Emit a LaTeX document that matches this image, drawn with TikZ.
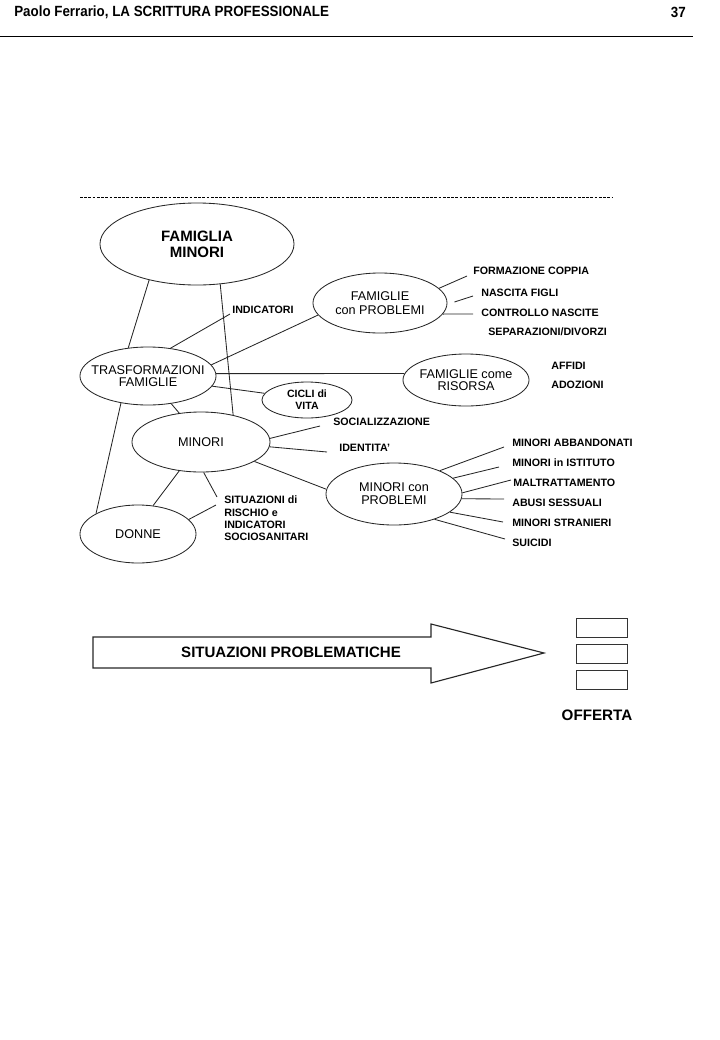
\documentclass[tikz,border=0pt]{standalone}
\usepackage{fontspec}
\setmainfont{Liberation Sans}
\newfontfamily\headfont[FakeStretch=0.905]{Liberation Sans}
\usetikzlibrary{shapes.geometric, calc}

\begin{document}
\begin{tikzpicture}[x=0.025cm, y=-0.025cm,
    oval/.style={ellipse, draw=black!85, line width=0.6pt, inner sep=0pt},
    ovaltext/.style={font=\fontsize{9}{9.8}\selectfont, align=center, inner sep=0pt},
    tag/.style={font=\bfseries\fontsize{7.6}{8.8}\selectfont, anchor=west, inner sep=0pt, align=left},
    link/.style={line width=0.6pt, black!85},
    offer/.style={rectangle, draw=black!80, line width=0.6pt, minimum width=1.275cm, minimum height=0.475cm, inner sep=0pt}
]
\useasboundingbox (0,0) rectangle (720,1040);

% page header
\node[font=\headfont\bfseries\fontsize{10.5}{12}\selectfont, anchor=west, inner sep=0pt] (head) at (14,12) {Paolo Ferrario, LA SCRITTURA PROFESSIONALE};
\node[font=\headfont\bfseries\fontsize{10.5}{12}\selectfont, anchor=east, inner sep=0pt] (page) at (686,12) {37};
\draw[line width=0.7pt] (0,36) -- (693,36);
\draw[dash pattern=on 2pt off 1pt, line width=0.6pt] (80,197) -- (612,197);

% ovals
\node[oval, minimum width=4.85cm, minimum height=2.05cm] (fm) at (197,244) {};
\node[ovaltext, font=\bfseries\fontsize{10.7}{11.5}\selectfont] (fm-t) at (fm) {FAMIGLIA\\MINORI};
\node[oval, minimum width=3.35cm, minimum height=1.5cm] (fp) at (380,303) {};
\node[ovaltext, font=\fontsize{9}{10}\selectfont] (fp-t) at (fp) {FAMIGLIE\\con PROBLEMI};
\node[oval, minimum width=3.4cm, minimum height=1.45cm] (tf) at (148,376) {};
\node[ovaltext, font=\fontsize{9}{8.6}\selectfont] (tf-t) at (tf) {TRASFORMAZIONI\\FAMIGLIE};
\node[oval, minimum width=2.25cm, minimum height=0.9cm] (cv) at (307,400) {};
\node[ovaltext, font=\bfseries\fontsize{7.5}{8.6}\selectfont] (cv-t) at (cv) {CICLI di\\VITA};
\node[oval, minimum width=3.15cm, minimum height=1.3cm] (fr) at (466,380) {};
\node[ovaltext, font=\fontsize{9}{8.6}\selectfont] (fr-t) at (fr) {FAMIGLIE come\\RISORSA};
\node[oval, minimum width=3.45cm, minimum height=1.5cm] (mi) at (201,442) {};
\node[ovaltext] (mi-t) at (mi) {MINORI};
\node[oval, minimum width=3.4cm, minimum height=1.55cm] (mp) at (394,494) {};
\node[ovaltext, font=\fontsize{9}{9.3}\selectfont] (mp-t) at (mp) {MINORI con\\PROBLEMI};
\node[oval, minimum width=2.9cm, minimum height=1.45cm] (dn) at (138,534) {};
\node[ovaltext] (dn-t) at (dn) {DONNE};

% tags
\node[tag] (ind) at (232,310) {INDICATORI};
\node[tag] (fc) at (473,271) {FORMAZIONE COPPIA};
\node[tag] (nf) at (481,293) {NASCITA FIGLI};
\node[tag] (cn) at (481,313) {CONTROLLO NASCITE};
\node[tag] (sd) at (488,332) {SEPARAZIONI/DIVORZI};
\node[tag] (af) at (551,366) {AFFIDI};
\node[tag] (ad) at (551,385) {ADOZIONI};
\node[tag] (so) at (333,422) {SOCIALIZZAZIONE};
\node[tag] (id) at (339,448) {IDENTITA'};
\node[tag] (sr) at (224,518.5) {SITUAZIONI di\\RISCHIO e\\INDICATORI\\SOCIOSANITARI};
\node[tag] (ma) at (512,443) {MINORI ABBANDONATI};
\node[tag] (mis) at (512,463) {MINORI in ISTITUTO};
\node[tag] (mt) at (513,483) {MALTRATTAMENTO};
\node[tag] (as) at (512,503) {ABUSI SESSUALI};
\node[tag] (ms) at (512,523) {MINORI STRANIERI};
\node[tag] (su) at (512,543) {SUICIDI};

% links
\draw[link] (fm.217) -- (tf.125);
\draw[link] (fm.300) -- (mi.40);
\draw[link] (tf.51) -- ($(ind.west)+(-2,4)$);
\draw[link] (tf.10) -- (fp.191);
\draw[link] (tf.2) -- (fr.174);
\draw[link] (tf.351) -- (cv.171);
\draw[link] (tf.310) -- (mi.127);
\draw[link] (tf.225) -- (dn.154);
\draw[link] (fp.14) -- ($(fc.west)+(-6,5)$);
\draw[link] ($(fp.east)+(7,-1)$) -- ($(nf.west)+(-8,3)$);
\draw[link] (fp.350) -- ($(cn.west)+(-8,1)$);
\draw[link] (mi.3) -- ($(so.west)+(-13,4)$);
\draw[link] (mi.356) -- ($(id.west)+(-12,4)$);
\draw[link] (mi.340) -- (mp.176);
\draw[link] (mi.233) -- (dn.62);
\draw[link] (mi.275) -- ($(sr.west)+(-7,-21.5)$);
\draw[link] (dn.16) -- ($(sr.west)+(-8,-13.5)$);
\foreach \a/\t/\dx/\dy in {27/ma/-8/4, 15/mis/-13/4, 1/mt/-2/-3, 356/as/-8/-4, 342/ms/-9/-1, 328/su/-7/-4}
    \draw[link] (mp.\a) -- ($(\t.west)+(\dx,\dy)$);

% big arrow and offer
\draw[line width=0.8pt, black!85] (93,637) -- (431,637) -- (431,624) -- (544,653) -- (431,683) -- (431,668) -- (93,668) -- cycle;
\node[font=\bfseries\fontsize{10.7}{12}\selectfont] (sp) at (291,652) {SITUAZIONI PROBLEMATICHE};
\foreach \y [count=\i] in {627.5,653.5,680}
    \node[offer] (box\i) at (601.5,\y) {};
\node[font=\bfseries\fontsize{10.8}{12}\selectfont] (offerta) at (597,715) {OFFERTA};
\end{tikzpicture}
\end{document}
